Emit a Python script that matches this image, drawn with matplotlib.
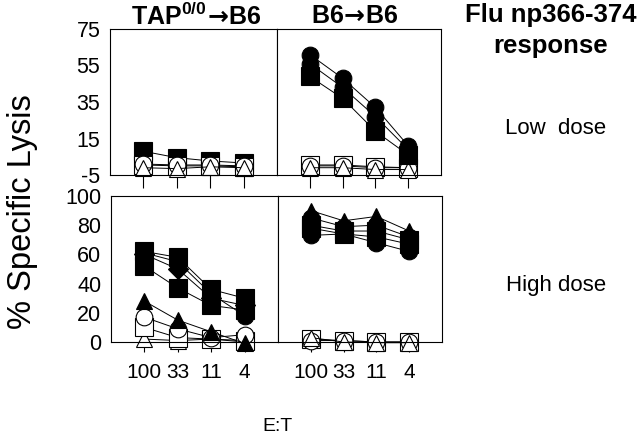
import numpy as np
import matplotlib.pyplot as plt

plt.rcParams['font.family'] = ['Liberation Sans', 'DejaVu Sans']
plt.rcParams['mathtext.fontset'] = 'custom'
plt.rcParams['mathtext.rm'] = 'Liberation Sans'
plt.rcParams['mathtext.bf'] = 'Liberation Sans:bold'
plt.rcParams['mathtext.sf'] = 'DejaVu Sans:bold'
plt.rcParams['axes.unicode_minus'] = False

# - - - - data - - - -
et_labels = ['100', '33', '11', '4']

# low dose, TAP0/0 -> B6
tap_low_fsq = [8, 4.5, 2.7, 1.6]
tap_low_osq = [0.5, 0, 0, -0.5]
tap_low_oci = [1, 0.5, 0.5, 0]
tap_low_otr = [-1, -1.5, -0.5, -1]

# low dose, B6 -> B6
b6_low_fci = [61, 48, 32, 11]
b6_low_fci2 = [56, 43, 27, 9]
b6_low_fsq = [49, 37, 19, 6]
b6_low_osq = [0.5, 0.5, -0.5, -1]
b6_low_oci = [0, 0, -1, -1]
b6_low_otr = [-1, -1, -2, -2]

# high dose, TAP0/0 -> B6
tap_high_fsq = [62, 58, 36, 30]
tap_high_fci = [61, 55, 33, 18]
tap_high_fdi = [60, 50, 30, 25]
tap_high_fsq2 = [52, 37, 25, 22]
tap_high_ftr = [28, 15, 7, -1]
tap_high_oci = [17, 9, 3, 5]
tap_high_osq = [10, 3, 2, 1]
tap_high_otr = [2, 1, 2, 0]

# high dose, B6 -> B6
b6_high_ftr = [90, 83, 86, 76]
b6_high_fci = [85, 79, 80, 72]
b6_high_fsq = [80, 76, 76, 70]
b6_high_fsq2 = [78, 74, 72, 67]
b6_high_fci2 = [73, 74, 68, 62]
b6_high_osq = [2, 1, 0, 0]
b6_high_oci = [1, 1, 0, 0]
b6_high_otr = [3, 0, -0.5, -0.5]

# (values, marker, filled)
panels = {
    'tl': [(tap_low_fsq, 's', True), (tap_low_osq, 's', False),
           (tap_low_oci, 'o', False), (tap_low_otr, '^', False)],
    'tr': [(b6_low_osq, 's', False), (b6_low_oci, 'o', False),
           (b6_low_otr, '^', False), (b6_low_fsq, 's', True),
           (b6_low_fci2, 'o', True), (b6_low_fci, 'o', True)],
    'bl': [(tap_high_otr, '^', False), (tap_high_osq, 's', False),
           (tap_high_oci, 'o', False), (tap_high_ftr, '^', True),
           (tap_high_fsq2, 's', True), (tap_high_fdi, 'D', True),
           (tap_high_fci, 'o', True), (tap_high_fsq, 's', True)],
    'br': [(b6_high_osq, 's', False), (b6_high_oci, 'o', False),
           (b6_high_otr, '^', False), (b6_high_ftr, '^', True),
           (b6_high_fci2, 'o', True), (b6_high_fsq2, 's', True),
           (b6_high_fsq, 's', True), (b6_high_fci, 'o', True)],
}
msize = {'s': 13, 'o': 12, '^': 12, 'D': 10}


def draw(ax, series):
    x = np.arange(4)
    for vals, mk, filled in series:
        ax.plot(x, vals, color='black', lw=0.7, marker=mk, ms=msize[mk],
                mfc='black' if filled else 'white', mec='black', mew=0.8,
                clip_on=False)


def style(ax, ylim, yticks, showy, showx, ticklen):
    ax.set_xlim(-1, 4)
    ax.set_ylim(*ylim)
    ax.set_yticks(yticks)
    ax.set_xticks(range(4))
    ax.set_xticklabels(et_labels)
    ax.tick_params(axis='y', length=0, pad=7, labelsize=15.5,
                   labelleft=showy)
    ax.tick_params(axis='x', direction='out', length=ticklen, width=0.8,
                   pad=8, labelsize=15, labelbottom=showx)
    for sp in ax.spines.values():
        sp.set_linewidth(0.8)


fig = plt.figure(figsize=(6.4, 4.36), dpi=100)
ax_tl = fig.add_axes([0.1719, 0.5986, 0.2609, 0.3349])
ax_tr = fig.add_axes([0.4328, 0.5986, 0.2563, 0.3349])
ax_bl = fig.add_axes([0.1734, 0.2156, 0.2609, 0.3349])
ax_br = fig.add_axes([0.4343, 0.2156, 0.2563, 0.3349])

draw(ax_tl, panels['tl'])
draw(ax_tr, panels['tr'])
draw(ax_bl, panels['bl'])
draw(ax_br, panels['br'])

style(ax_tl, (-5, 75), [-5, 15, 35, 55, 75], True, False, 9)
style(ax_tr, (-5, 75), [-5, 15, 35, 55, 75], False, False, 9)
style(ax_bl, (0, 100), [0, 20, 40, 60, 80, 100], True, True, 7)
style(ax_br, (0, 100), [0, 20, 40, 60, 80, 100], False, True, 7)

fig.text(196 / 640, 1 - 16 / 436,
         r'TAP$^{\bf 0/0}\!\mathsf{\rightarrow}\!$B6',
         ha='center', va='center', fontsize=18, fontweight='bold')
fig.text(355 / 640, 1 - 16 / 436, r'B6$\!\mathsf{\rightarrow}\!$B6',
         ha='center', va='center', fontsize=18, fontweight='bold')
fig.text(551 / 640, 1 - 15 / 436, 'Flu np366-374', ha='center', va='center',
         fontsize=18.5, fontweight='bold')
fig.text(551 / 640, 1 - 46 / 436, 'response', ha='center', va='center',
         fontsize=18.5, fontweight='bold')
fig.text(556 / 640, 1 - 128 / 436, 'Low  dose', ha='center', va='center',
         fontsize=16)
fig.text(556 / 640, 1 - 285 / 436, 'High dose', ha='center', va='center',
         fontsize=16)
fig.text(23 / 640, 1 - 212 / 436, '% Specific Lysis', ha='center',
         va='center', rotation=90, fontsize=23.5)
fig.text(278 / 640, 1 - 426 / 436, 'E:T', ha='center', va='center',
         fontsize=14)

plt.savefig('out.png', dpi=100)
